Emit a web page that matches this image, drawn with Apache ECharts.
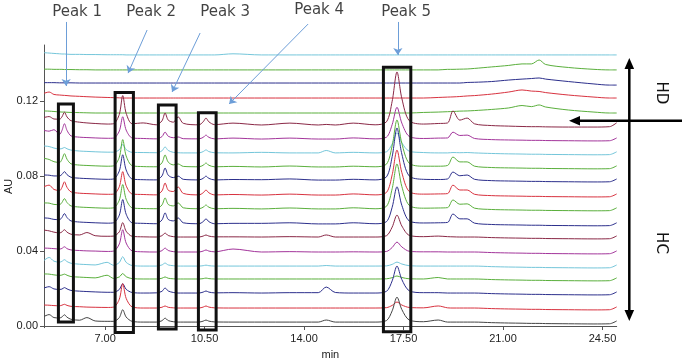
<!DOCTYPE html>
<html><head><meta charset="utf-8">
<script src="https://cdn.jsdelivr.net/npm/echarts@6/dist/echarts.min.js"></script>
<style>html,body{margin:0;padding:0;background:#fff}#c{width:682px;height:361px}</style>
</head><body><div id="c"></div>
<script>
// retention time grid (min)
const times = [4.85,5.03,5.2,5.4,5.48,5.57,5.66,5.8,6.1,6.36,
  6.65,7.07,7.3,7.5,7.62,7.74,7.95,8.34,8.8,9.0,
  9.11,9.22,9.4,9.57,9.75,10.3,10.45,10.55,10.65,10.85,
  11.5,12.5,13.5,14.5,14.78,15.1,15.73,16.5,16.9,17.1,
  17.27,17.44,17.7,18.2,18.72,19.05,19.24,19.48,19.74,20.0,
  20.6,21.2,21.67,22.0,22.27,22.5,23.3,24.2,24.75,25.0];
// baseline (AU) of each stacked chromatogram, top to bottom
const baselines = [0.1447,0.1367,0.1297,0.1217,0.1137,0.1073,0.0998,0.0924,0.0849,0.0779,
  0.0699,0.0625,0.0545,0.0475,0.0395,0.0320,0.0251,0.0176,0.0096,0.0021];
// signal above baseline (mAU) for each trace
const trace1 = [1.2,1.0,0.8,0.6,0.5,0.5,0.4,0.3,0.3,0.2, 0.2,0.1,0.1,0.1,0.1,0,0,0,0,0, 0,0,0,0,0,0,0,0,0,0, 0.6,0,0,0,0,0,0,0,0,0, 0,0,0,0,0,0,0,0,0,0, 0,0,0,0,0,0,0,0,0,0];
const trace2 = [0.4,0.4,0.3,0.3,0.3,0.2,0.2,0.2,0.1,0.1, 0,0,0,0,0,0,0,0,0,0, 0,0,0,0,0,0,0,0,0,0, 0,0,0,0,0,0,0,0,0,0, 0,0,0,0,0,0.3,0.3,0.4,0.5,0.8, 1.6,2.4,3.2,3.2,5.3,2.9,1.3,0.3,0,0];
const trace3 = [0.2,0.2,0.2,0.1,0.1,0.1,0.1,0.1,0,0, 0,0,0,0,0,0,0,0,0,0, 0,0,0,0,0,0,0,0,0,0, 0,0,0,0,0,0,0,0,0,0, 0,0,0,0,0,0,0,0,0.3,0.4, 0.8,1.6,2.1,2.4,2.7,2.1,0.8,-0.5,-1.1,-1.1];
const trace4 = [2.5,3.2,1.9,1.6,1.5,1.4,1.3,1.1,0.9,0.7, 0.5,0.3,0.2,0.1,0,0,0,0,0,0, 0,0,0,0,0,0,0,0,0,0, 0,0,0,0,0,0,0,0,0,0, 0,0,0,0,0.3,0.5,0.6,0.8,1.1,1.3, 2.1,3.2,4.3,3.7,3.5,2.9,1.6,0.5,0,0];
const trace5 = [1.1,1.0,0.8,0.6,0.5,0.5,0.4,0.3,0.2,0.1, 0,0,0,0,0,0,0,0,0,0, 0,0,0,0,0,0,0,0,0,0, 0,0,0,0,0,0,0,0,0,0, 0,0,0,0.3,0.5,0.7,0.8,1.0,1.1,1.3, 1.9,2.7,4.0,3.4,4.3,3.2,1.6,0.5,0,0];
const trace6 = [4.0,4.5,3.2,3.1,4.3,6.8,4.3,2.3,1.5,1.1, 0.8,0.5,0.7,5.7,15.7,6.3,0.7,1.1,0.1,2.2, 6.4,2.6,1.5,4.3,0.9,0.1,1.7,3.7,1.7,0.2, 1.0,0,1.0,0,0.3,0,1.0,0.1,1.7,12.7, 28.3,14.2,2.3,0.5,0.8,1.1,7.5,2.6,3.7,0.6, -0.3,-0.6,-0.8,-0.9,-0.9,-1.0,-1.1,-1.1,-0.9,1.2];
const trace7 = [4.6,4.2,5.0,2.5,4.5,8.2,4.6,1.7,1.0,0.8, 0.6,0.4,0.5,4.3,11.9,4.8,0.6,0.3,0.1,1.3, 3.7,1.5,0.7,1.1,0.2,0.1,0.9,2.1,0.9,0.1, 0.5,0,0.5,0,0,0,0.6,0.1,1.0,7.7, 17.0,8.5,1.4,0.3,0.5,0.6,3.7,1.9,2.1,0.3, -0.3,-0.5,-0.6,-0.7,-0.7,-0.8,-0.9,-1.0,-0.9,0.6];
const trace8 = [3.7,3.4,2.6,2.1,2.3,2.9,2.2,1.5,1.0,0.8, 0.6,0.4,0.4,1.7,4.5,1.8,0.3,0.2,0.1,1.1, 3.2,1.3,0.3,0.1,0,0,0.7,1.6,0.7,0.1, 0,0.3,0,0,1.3,0,0.3,0,0.6,4.8, 10.7,5.4,0.9,0.2,0,0,0.2,0.1,0.2,0, -0.3,-0.5,-0.6,-0.7,-0.7,-0.8,-0.9,-1.0,-0.9,0.6];
const trace9 = [4.6,4.0,2.8,2.4,4.0,7.1,4.1,1.7,1.0,0.8, 0.6,0.4,0.6,5.2,14.6,5.9,0.7,0.2,0.1,2.2, 6.4,2.6,1.1,1.6,0.3,0.1,0.9,2.1,0.9,0.1, 0.3,0,0.5,0,0,0,0.4,0.1,1.5,11.3, 25.1,12.6,2.0,0.4,0.4,0.8,5.3,2.7,2.7,0.4, -0.3,-0.5,-0.6,-0.7,-0.7,-0.8,-0.9,-1.0,-0.9,0.6];
const trace10 = [2.7,2.6,2.2,2.2,3.0,4.5,2.9,1.5,1.0,0.8, 0.6,0.4,0.6,4.9,13.5,5.4,0.6,0.2,0.1,2.2, 6.4,2.6,1.3,2.1,0.4,0.1,0.9,2.1,0.9,0.1, 0.3,0.2,0.6,0,0,0,0.4,0.1,1.7,12.5, 27.8,13.9,2.2,0.4,0.3,0.6,4.3,2.3,2.7,0.4, -0.3,-0.5,-0.6,-0.7,-0.7,-0.8,-0.9,-1.0,-0.9,0.6];
const trace11 = [4.5,5.3,3.0,2.4,4.0,7.1,4.1,1.7,1.0,0.8, 0.6,0.4,0.5,4.5,12.5,5.0,0.6,0.3,0.1,2.2, 6.4,2.6,1.9,4.3,0.9,0.1,1.2,2.7,1.2,0.1, 0.3,0,0.5,0,0,0,0.6,0.1,1.4,10.8, 24.0,12.0,1.9,0.5,0.6,0.8,5.3,2.7,2.7,0.4, -0.3,-0.5,-0.6,-0.7,-0.7,-0.8,-0.9,-1.0,-0.9,0.6];
const trace12 = [3.2,3.1,2.4,2.3,3.4,5.5,3.4,1.6,1.0,0.8, 0.6,0.4,0.6,4.7,13.0,5.2,0.6,0.2,0.1,2.1, 5.9,2.4,1.6,3.2,0.6,0.1,0.9,2.1,0.9,0.1, 0.3,0,0.5,0,0,0,0.6,0.1,1.4,10.8, 24.0,12.0,1.9,0.4,0.5,0.7,4.8,2.5,2.7,0.4, -0.3,-0.5,-0.6,-0.7,-0.7,-0.8,-0.9,-1.0,-0.9,0.6];
const trace13 = [3.2,3.0,2.4,2.3,3.4,5.5,3.4,1.6,1.0,0.8, 0.6,0.4,0.6,4.7,13.0,5.2,0.6,0.3,0.1,2.1, 5.9,2.4,1.6,3.2,0.6,0.1,1.2,2.7,1.2,0.1, 0.3,0.3,0.6,0,0,0,0.6,0.1,1.2,8.9, 19.8,9.9,1.6,0.5,0.6,0.8,5.3,2.7,2.7,0.4, -0.3,-0.5,-0.6,-0.7,-0.7,-0.8,-0.9,-1.0,-0.9,0.6];
const trace14 = [3.7,3.3,2.6,2.2,2.7,3.9,2.6,1.5,1.1,2.4, 0.7,0.4,0.5,2.8,7.7,3.1,0.4,0.1,0,0.7, 2.1,0.8,0.2,0,0,0,0.5,1.1,0.5,0.1, 0.1,0,0.2,0,1.1,0,0,0,0.7,5.3, 11.7,5.9,0.9,0.2,0.5,0.2,0.1,0,0,0, -0.3,-0.5,-0.6,-0.7,-0.7,-0.8,-0.9,-1.0,-0.9,0.6];
const trace15 = [2.1,2.0,1.8,1.6,1.9,2.8,1.8,1.1,0.8,0.6, 0.5,0.3,0.5,4.3,11.9,4.8,0.6,0.1,0,0.7, 2.1,0.8,0.2,0,0,0,0.5,1.1,0.5,0.1, 1.6,0,0.2,0,0,0,0.1,0,0.3,2.4, 5.3,2.7,0.4,0.1,0.1,0,0,0,0,0, -0.3,-0.5,-0.6,-0.7,-0.7,-0.8,-0.9,-1.0,-0.9,0.6];
const trace16 = [3.0,4.6,2.6,2.1,2.5,3.4,2.4,1.5,1.0,0.8, 0.6,2.0,0.4,1.9,5.0,2.0,0.3,0,0,0.6, 1.6,0.6,0.2,0,0,0,0.2,0.5,0.2,0, 0,0,0,0,0.3,0,0,0,0.1,0.9, 2.1,1.1,0.2,0,0,0,0,0,0,0, -0.3,-0.5,-0.6,-0.7,-0.7,-0.8,-0.9,-1.0,-0.9,0.6];
const trace17 = [2.7,2.6,2.2,1.9,2.1,2.6,2.0,1.3,1.0,0.8, 0.6,2.0,0.3,1.1,2.9,1.2,0.2,0,0,0.4, 1.1,0.4,0.1,0,0,0,0.2,0.5,0.2,0, 0,0,0,0,0,0,0,0,0.1,0.7, 1.6,0.8,0.1,0,0.8,0,0,0,0,0, -0.3,-0.5,-0.6,-0.7,-0.7,-0.8,-0.9,-1.0,-0.9,0.6];
const trace18 = [2.7,3.4,2.2,1.9,2.1,2.9,2.2,1.4,1.0,0.8, 0.6,0.4,0.4,1.9,5.0,2.0,0.3,0,0.1,0.9, 2.7,1.1,0.3,0,0,0,0.5,1.1,0.5,0.1, 0.2,0,0.2,0.2,3.2,0.3,0,0,0.9,6.5, 14.4,7.2,1.2,0.2,0.2,0,0,0,0,0, -0.3,-0.5,-0.6,-0.7,-0.7,-0.8,-0.9,-1.0,-0.9,0.6];
const trace19 = [1.6,1.5,1.3,1.2,1.5,2.0,1.4,0.9,0.7,0.5, 0.4,0.3,0.5,4.7,13.0,5.2,0.6,0,0,0.4, 1.1,0.4,0.1,0,0,0,0.5,1.1,0.5,0.1, 0,0,0,0,0,0,0,0,0.2,1.4, 3.2,1.6,0.3,0.1,1.1,0.1,0,0,0,0, -0.3,-0.5,-0.6,-0.7,-0.7,-0.8,-0.9,-1.0,-0.9,0.6];
const trace20 = [3.0,4.0,2.4,2.2,2.7,3.9,2.6,1.5,1.0,2.4, 0.6,0.4,0.4,2.4,6.6,2.7,0.4,0,0,0.7, 2.1,0.8,0.2,0,0,0,0.5,1.1,0.5,0.1, 0,0,0,0,1.1,0,0,0,0.8,6.0, 13.3,6.7,1.1,0.2,1.1,0,0,0,0,0, -0.3,-0.5,-0.6,-0.7,-0.7,-0.8,-0.9,-1.0,-0.9,0.6];
const traces = [trace1,trace2,trace3,trace4,trace5,trace6,trace7,trace8,trace9,trace10,
  trace11,trace12,trace13,trace14,trace15,trace16,trace17,trace18,trace19,trace20];
const traceColors = ['#74c6da','#5aaf3c','#2c2f8c','#d8323f','#5aaf3c','#8a2846','#a3359b','#74c6da','#5aaf3c','#2c2f8c',
  '#d8323f','#5aaf3c','#2c2f8c','#8a2846','#a3359b','#74c6da','#5aaf3c','#2c2f8c','#d8323f','#444444'];
const xTicks = [7, 10.5, 14, 17.5, 21, 24.5];
const yTicks = [0, 0.04, 0.08, 0.12];
const peakLabels = ['Peak 1','Peak 2','Peak 3','Peak 4','Peak 5'];
// highlighted peak windows (min / AU)
const boxStart = [5.357,7.352,8.875,10.283,16.792];
const boxEnd = [5.885,7.996,9.498,10.906,17.756];
const boxTop = [0.1185,0.1247,0.1180,0.1139,0.1381];
const boxBottom = [0.0021,-0.0034,-0.0016,-0.0021,-0.0030];
// annotation anchors (data coords)
const labelPos = [[6.015,0.1676],[8.619,0.1676],[11.222,0.1676],[14.53,0.1687],[17.59,0.1676]];
const arrowFrom = [[5.628,0.1623],[8.478,0.1580],[10.343,0.1564],[14.143,0.1612],[17.30,0.1623]];
const arrowTo = [[5.628,0.1281],[7.809,0.1350],[9.357,0.1249],[11.363,0.1185],[17.30,0.1447]];

const chart = echarts.init(document.getElementById('c'), null, {renderer:'canvas'});
const lineSeries = traces.map((vals, i) => ({
  type: 'line',
  data: times.map((t, j) => [t, baselines[i] + vals[j] / 1000]),
  showSymbol: false, smooth: 0.3, silent: true,
  lineStyle: {color: traceColors[i], width: 1},
  z: 2
}));
const option = {
  animation: false,
  backgroundColor: '#ffffff',
  grid: {left: 44, right: 65.3, top: 45, bottom: 33.3, containLabel: false, outerBoundsMode: 'none'},
  xAxis: {
    type: 'value', min: 4.85, max: 25,
    name: 'min', nameLocation: 'middle', nameGap: 22, nameMoveOverlap: false,
    nameTextStyle: {fontFamily: 'Liberation Sans', fontSize: 11, color: '#222'},
    axisLine: {show: true, lineStyle: {color: '#555', width: 1}},
    axisTick: {show: true, length: 4, customValues: xTicks, lineStyle: {color: '#555'}},
    axisLabel: {customValues: xTicks, formatter: v => v.toFixed(2), fontFamily: 'Liberation Sans', fontSize: 11, color: '#222', margin: 6},
    splitLine: {show: false}
  },
  yAxis: {
    type: 'value', min: -0.0009, max: 0.15,
    name: 'AU', nameLocation: 'middle', nameGap: 30, nameMoveOverlap: false,
    nameTextStyle: {fontFamily: 'Liberation Sans', fontSize: 11, color: '#222'},
    axisLine: {show: true, lineStyle: {color: '#555', width: 1}},
    axisTick: {show: true, length: 4, customValues: yTicks, lineStyle: {color: '#555'}},
    axisLabel: {customValues: yTicks, formatter: v => v.toFixed(2), fontFamily: 'Liberation Sans', fontSize: 11, color: '#222', margin: 6},
    splitLine: {show: false}
  },
  series: lineSeries.concat([
    {
      type: 'custom', clip: false, silent: true, z: 5,
      data: boxStart.map((s, i) => [s, boxEnd[i], boxTop[i], boxBottom[i]]),
      encode: {x: [0, 1], y: [2, 3]},
      renderItem: (params, api) => {
        const p0 = api.coord([api.value(0), api.value(2)]);
        const p1 = api.coord([api.value(1), api.value(3)]);
        return {type: 'rect', shape: {x: p0[0], y: p0[1], width: p1[0] - p0[0], height: p1[1] - p0[1]},
          style: {fill: 'none', stroke: '#111', lineWidth: 3}};
      }
    },
    {
      type: 'lines', coordinateSystem: 'cartesian2d', clip: false, silent: true, z: 6,
      symbol: ['none', 'arrow'], symbolSize: 7,
      lineStyle: {color: '#6d9ed8', width: 1, opacity: 1},
      data: arrowFrom.map((f, i) => ({coords: [f, arrowTo[i]]}))
    },
    {
      type: 'scatter', clip: false, silent: true, z: 6,
      symbolSize: 1, itemStyle: {color: 'rgba(0,0,0,0)'},
      data: labelPos.map((p, i) => ({name: peakLabels[i], value: p})),
      label: {show: true, position: 'inside', formatter: p => p.name,
        fontFamily: 'DejaVu Sans', fontSize: 15, color: '#111'}
    }
  ]),
  graphic: [
    {type: 'line', shape: {x1: 629.3, y1: 66, x2: 629.3, y2: 313}, style: {stroke: '#000', lineWidth: 2.5}},
    {type: 'polygon', shape: {points: [[629.3, 58], [624.5, 69], [634.1, 69]]}, style: {fill: '#000'}},
    {type: 'polygon', shape: {points: [[629.3, 321], [624.5, 310], [634.1, 310]]}, style: {fill: '#000'}},
    {type: 'line', shape: {x1: 578, y1: 120.7, x2: 682, y2: 120.7}, style: {stroke: '#000', lineWidth: 2.5}},
    {type: 'polygon', shape: {points: [[569, 120.7], [580, 116], [580, 125.4]]}, style: {fill: '#000'}},
    {type: 'text', x: 661, y: 93, rotation: -Math.PI / 2,
      style: {text: 'HD', fontFamily: 'DejaVu Sans', fontSize: 15, fill: '#111', align: 'center', verticalAlign: 'middle'}},
    {type: 'text', x: 661, y: 243, rotation: -Math.PI / 2,
      style: {text: 'HC', fontFamily: 'DejaVu Sans', fontSize: 15, fill: '#111', align: 'center', verticalAlign: 'middle'}}
  ]
};
chart.setOption(option);
</script></body></html>
